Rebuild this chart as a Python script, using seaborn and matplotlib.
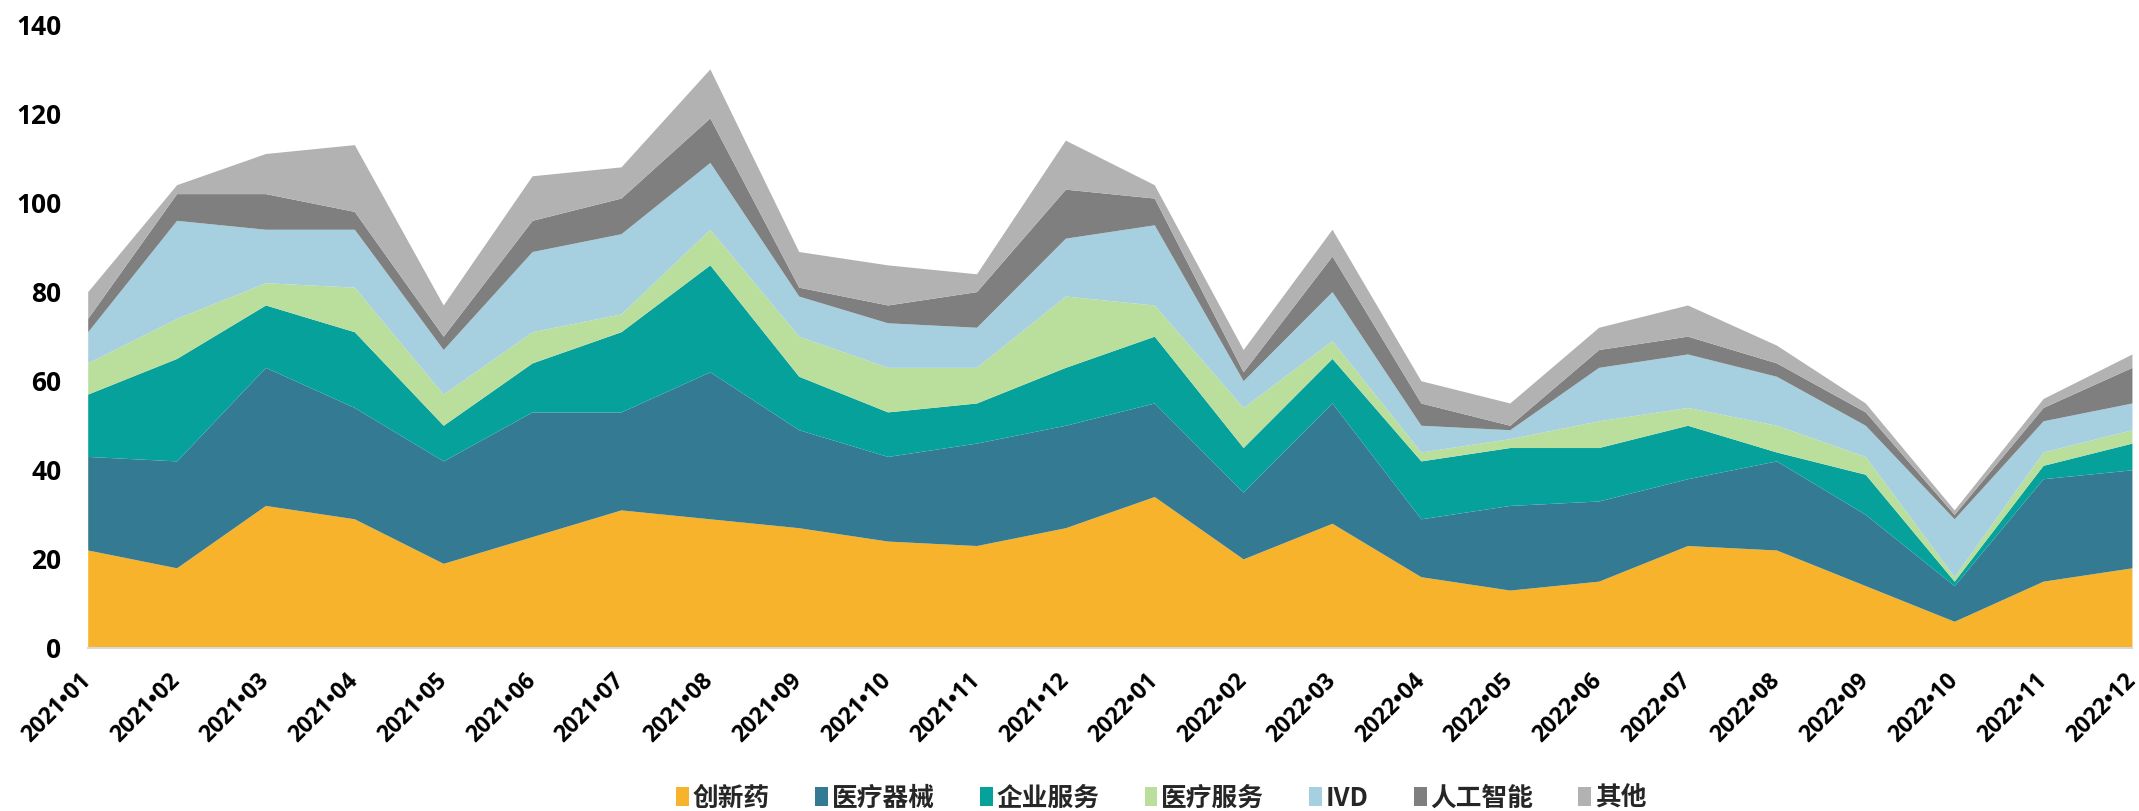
import numpy as np
import pandas as pd
import matplotlib
matplotlib.use("Agg")
import matplotlib.pyplot as plt
from matplotlib.patches import Patch
import seaborn as sns

# ---- data ----
months = ["2021•01", "2021•02", "2021•03", "2021•04", "2021•05", "2021•06",
          "2021•07", "2021•08", "2021•09", "2021•10", "2021•11", "2021•12",
          "2022•01", "2022•02", "2022•03", "2022•04", "2022•05", "2022•06",
          "2022•07", "2022•08", "2022•09", "2022•10", "2022•11", "2022•12"]

innovative_drug = [22, 18, 32, 29, 19, 25, 31, 29, 27, 24, 23, 27,
                   34, 20, 28, 16, 13, 15, 23, 22, 14, 6, 15, 18]
medical_device = [21, 24, 31, 25, 23, 28, 22, 33, 22, 19, 23, 23,
                  21, 15, 27, 13, 19, 18, 15, 20, 16, 8, 23, 22]
enterprise_service = [14, 23, 14, 17, 8, 11, 18, 24, 12, 10, 9, 13,
                      15, 10, 10, 13, 13, 12, 12, 2, 9, 1, 3, 6]
medical_service = [7, 9, 5, 10, 7, 7, 4, 8, 9, 10, 8, 16,
                   7, 9, 4, 2, 2, 6, 4, 6, 4, 1, 3, 3]
ivd = [7, 22, 12, 13, 10, 18, 18, 15, 9, 10, 9, 13,
       18, 6, 11, 6, 2, 12, 12, 11, 7, 13, 7, 6]
ai = [3, 6, 8, 4, 3, 7, 8, 10, 2, 4, 8, 11,
      6, 2, 8, 5, 1, 4, 4, 3, 3, 1, 3, 8]
others = [6, 2, 9, 15, 7, 10, 7, 11, 8, 9, 4, 11,
          3, 5, 6, 5, 5, 5, 7, 4, 2, 1, 2, 3]

series_names = ["创新药", "医疗器械", "企业服务", "医疗服务", "IVD", "人工智能", "其他"]
colors = ["#F6B32B", "#357A93", "#05A19A", "#BADF9D", "#A6CFDF", "#7F7F7F", "#B2B2B2"]

df = pd.DataFrame({
    "创新药": innovative_drug,
    "医疗器械": medical_device,
    "企业服务": enterprise_service,
    "医疗服务": medical_service,
    "IVD": ivd,
    "人工智能": ai,
    "其他": others,
}, index=months)

# ---- style ----
sns.set_theme(style="white")
plt.rcParams['font.family'] = ['Open Sans', 'Noto Sans CJK SC', 'DejaVu Sans']

fig = plt.figure(figsize=(21.39, 8.11), dpi=100)
ax = fig.add_axes([0.041, 0.201, 0.9557, 0.769])

x = np.arange(len(months))
ax.stackplot(x, [df[c].values for c in series_names], colors=colors,
             linewidth=0)

ax.set_xlim(0, len(months) - 1)
ax.set_ylim(0, 140)
ax.set_yticks(range(0, 141, 20))
ax.set_yticklabels([str(v) for v in range(0, 141, 20)],
                   fontsize=19, fontweight='bold', color='black')
ax.set_xticks(x)
ax.set_xticklabels(months, rotation=45, ha='right', va='center',
                   rotation_mode='anchor',
                   fontsize=16.5, fontweight='bold', color='black')
ax.tick_params(axis='x', length=0, pad=21)
ax.tick_params(axis='y', length=0, pad=19)

for s in ["top", "right", "left"]:
    ax.spines[s].set_visible(False)
ax.spines["bottom"].set_color("#D9D9D9")
ax.spines["bottom"].set_linewidth(1.5)
ax.grid(False)

# ---- legend ----
handles = [Patch(facecolor=c, edgecolor='none') for c in colors]
leg = fig.legend(handles, series_names, loc='center', bbox_to_anchor=(0.543, 0.016),
                 ncol=7, frameon=False, handlelength=0.5, handleheight=0.8,
                 handletextpad=0.15, columnspacing=1.75,
                 prop={'family': ['Noto Sans CJK SC', 'DejaVu Sans'],
                       'weight': 'heavy', 'size': 18.5})

fig.savefig("out.png", dpi=100)
